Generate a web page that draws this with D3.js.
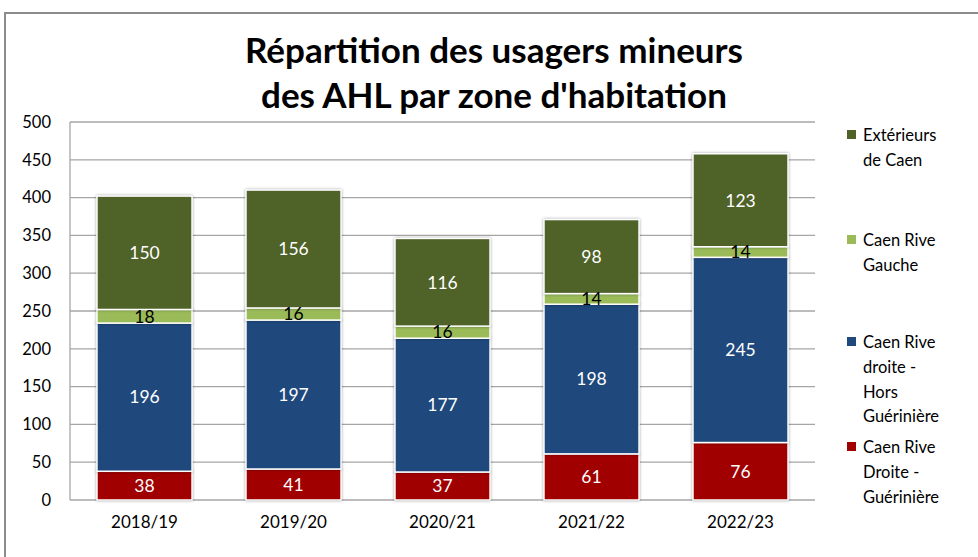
<!DOCTYPE html>
<html><head><meta charset="utf-8">
<script src="https://cdn.jsdelivr.net/npm/d3@7"></script>
<style>body{margin:0;background:#fff}svg{display:block}text{font-family:Lato,"Open Sans",sans-serif}</style>
</head><body>
<script>
const categories = ["2018/19","2019/20","2020/21","2021/22","2022/23"];
const seriesNames = ["Caen Rive Droite - Guérinière","Caen Rive droite - Hors Guérinière","Caen Rive Gauche","Extérieurs de Caen"];
const guerieniere = [38,41,37,61,76];
const horsGueriniere = [196,197,177,198,245];
const riveGauche = [18,16,16,14,14];
const exterieurs = [150,156,116,98,123];
const yTicks = [0,50,100,150,200,250,300,350,400,450,500];
const titleLines = ["Répartition des usagers mineurs","des AHL par zone d'habitation"];
const legendLines = [["Extérieurs","de Caen"],["Caen Rive","Gauche"],["Caen Rive","droite -","Hors","Guérinière"],["Caen Rive","Droite -","Guérinière"]];

const colors = ["#A00000","#1F497D","#9BBB59","#4F6228"];
const labelColors = ["#fff","#fff","#000","#fff"];
const seriesValues = [guerieniere,horsGueriniere,riveGauche,exterieurs];

const W=978,H=557;
const svg=d3.select("body").append("svg").attr("width",W).attr("height",H);

// outer frame
svg.append("path").attr("d","M5,557 L5,13 L978,13").attr("fill","none").attr("stroke","#8c8c8c").attr("stroke-width",2);

const plot={l:70,r:815,t:122,b:500};
const x=d3.scaleBand().domain(categories).range([plot.l,plot.r]).paddingInner(0.362).paddingOuter(0.181);
const y=d3.scaleLinear().domain([0,500]).range([plot.b,plot.t]);

// gridlines
svg.append("g").selectAll("line").data(yTicks).join("line")
  .attr("x1",plot.l).attr("x2",plot.r).attr("y1",d=>y(d)).attr("y2",d=>y(d))
  .attr("stroke","#a6a6a6").attr("stroke-width",1.3);
svg.append("line").attr("x1",plot.l).attr("x2",plot.l).attr("y1",plot.t).attr("y2",plot.b).attr("stroke","#a6a6a6").attr("stroke-width",1.3);

// y axis labels
const yAxis=d3.axisLeft(y).tickValues(yTicks).tickSize(0).tickPadding(0);
const gy=svg.append("g").attr("transform",`translate(51,0)`).call(yAxis);
gy.select(".domain").remove();
gy.selectAll("text").attr("font-size",16.5).attr("fill","#000").attr("font-family","Lato,sans-serif");

// x axis labels
const xAxis=d3.axisBottom(x).tickSize(0).tickPadding(0);
const gx=svg.append("g").attr("transform",`translate(0,516)`).call(xAxis);
gx.select(".domain").remove();
gx.selectAll("text").attr("font-size",17).attr("fill","#000").attr("font-family","Lato,sans-serif");

// stack
const rows=categories.map((c,i)=>{const o={cat:c};seriesNames.forEach((s,j)=>o[s]=seriesValues[j][i]);return o;});
const stack=d3.stack().keys(seriesNames)(rows);

const bars=svg.append("g");
stack.forEach((layer,j)=>{
  bars.append("g").selectAll("rect").data(layer).join("rect")
    .attr("x",d=>x(d.data.cat)).attr("width",x.bandwidth())
    .attr("y",d=>y(d[1])).attr("height",d=>y(d[0])-y(d[1]))
    .attr("fill",colors[j]).attr("stroke","#fff").attr("stroke-width",1.5)
    .style("filter","drop-shadow(0px 0px 1.5px rgba(0,0,0,0.35))");
});
stack.forEach((layer,j)=>{
  bars.append("g").selectAll("text").data(layer).join("text")
    .attr("x",d=>x(d.data.cat)+x.bandwidth()/2)
    .attr("y",d=>(y(d[0])+y(d[1]))/2)
    .attr("dy","0.36em").attr("text-anchor","middle")
    .attr("font-size",17.5).attr("fill",labelColors[j])
    .text(d=>d[1]-d[0]);
});

// title
svg.append("g").selectAll("text").data(titleLines).join("text")
  .attr("x",494).attr("y",(d,i)=>63+i*45).attr("text-anchor","middle")
  .attr("font-size",35).attr("font-weight","bold").attr("fill","#000").text(d=>d);

// legend
const legendTop=[135,240,342,447];
const lg=svg.append("g");
const legendOrder=[3,2,1,0];
legendLines.forEach((lines,k)=>{
  const j=legendOrder[k];
  lg.append("rect").attr("x",847).attr("y",legendTop[k]-5).attr("width",9).attr("height",9).attr("fill",colors[j]);
  lines.forEach((ln,m)=>{
    lg.append("text").attr("x",863).attr("y",legendTop[k]+m*24.8).attr("dy","0.36em")
      .attr("font-size",16.5).attr("fill","#000").text(ln);
  });
});
</script>
</body></html>
